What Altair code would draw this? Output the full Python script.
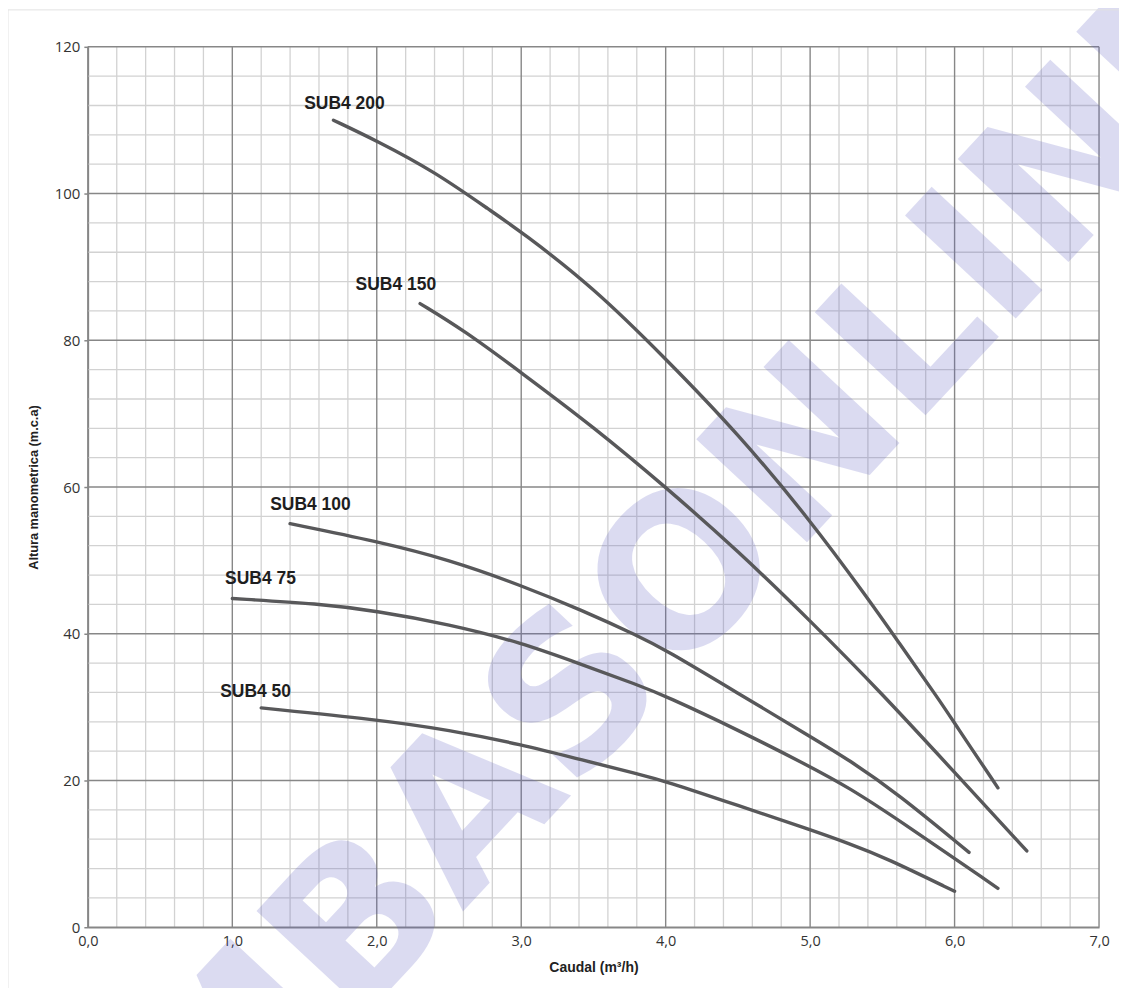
import altair as alt
import pandas as pd

# ---------------- data ----------------
x200 = [1.70, 2.00, 2.40, 2.80, 3.00, 3.50, 4.00, 4.50, 5.00, 5.40, 5.60, 5.90, 6.00, 6.30]
y200 = [110.0, 107.2, 103.0, 97.5, 94.8, 87.2, 77.5, 67.3, 55.5, 44.8, 39.2, 30.8, 27.8, 19.0]

x150 = [2.30, 2.60, 3.00, 3.50, 4.00, 4.50, 5.00, 5.50, 6.00, 6.50]
y150 = [85.0, 81.4, 75.6, 68.2, 60.0, 51.3, 41.8, 31.8, 21.1, 10.4]

x100 = [1.40, 2.00, 2.50, 3.00, 3.42, 3.81, 4.00, 4.50, 5.00, 5.27, 5.60, 6.10]
y100 = [55.0, 52.6, 50.1, 46.6, 43.2, 39.7, 37.8, 31.9, 26.0, 22.8, 18.3, 10.2]

x75 = [1.00, 1.60, 2.00, 2.50, 3.00, 3.42, 3.81, 4.00, 4.50, 5.00, 5.27, 5.60, 6.30]
y75 = [44.8, 44.1, 43.1, 41.3, 38.8, 35.8, 33.0, 31.5, 26.9, 21.9, 19.0, 14.8, 5.3]

x50 = [1.20, 2.00, 2.50, 3.00, 3.42, 3.81, 4.00, 4.50, 5.00, 5.27, 5.52, 6.00]
y50 = [29.9, 28.3, 26.9, 24.9, 22.8, 20.9, 19.9, 16.6, 13.3, 11.4, 9.5, 4.9]

series_names = ["SUB4 200", "SUB4 150", "SUB4 100", "SUB4 75", "SUB4 50"]
series_x = [x200, x150, x100, x75, x50]
series_y = [y200, y150, y100, y75, y50]

label_x = [1.776, 2.132, 1.541, 1.195, 1.161]
label_y = [112.2, 87.5, 57.5, 47.4, 32.0]

x_major = [0, 1, 2, 3, 4, 5, 6, 7]
y_major = [0, 20, 40, 60, 80, 100, 120]
x_minor = [round(i * 0.2, 1) for i in range(1, 35) if i % 5 != 0]
y_minor = [i * 4 for i in range(1, 30) if i % 5 != 0]

x_title = "Caudal (m³/h)"
y_title = "Altura manometrica (m.c.a)"
watermark = "MBASONLINE"

# ---------------- tables ----------------
rows = []
for name, xs, ys in zip(series_names, series_x, series_y):
    for xv, yv in zip(xs, ys):
        rows.append({"series": name, "q": xv, "h": yv})
curves_df = pd.DataFrame(rows)
labels_df = pd.DataFrame({"series": series_names, "q": label_x, "h": label_y})
xminor_df = pd.DataFrame({"q": x_minor})
yminor_df = pd.DataFrame({"h": y_minor})
xmajor_df = pd.DataFrame({"q": x_major})
ymajor_df = pd.DataFrame({"h": y_major})
one_df = pd.DataFrame({"t": [watermark]})

xscale = alt.Scale(domain=[0, 7], nice=False, zero=False)
yscale = alt.Scale(domain=[0, 120], nice=False, zero=False)

MINOR = "#d2d2d2"
MAJOR = "#878787"

xaxis = alt.Axis(
    values=x_major, grid=False, ticks=False,
    labelExpr="replace(format(datum.value, '.1f'), '.', ',')",
    domainColor=MAJOR, domainWidth=1.6,
    labelFont="Open Sans", labelFontSize=14.5, labelColor="#333333",
    labelPadding=7, labelFlush=False,
    title=x_title, titleFont="Liberation Sans", titleFontSize=14,
    titleFontWeight="bold", titleColor="#222222", titlePadding=13)
yaxis = alt.Axis(
    values=y_major, grid=False, tickSize=4, tickColor=MAJOR, tickWidth=1.5,
    domainColor=MAJOR, domainWidth=1.6,
    labelFont="Open Sans", labelFontSize=15, labelColor="#333333",
    labelPadding=4, labelFlush=False,
    title=y_title, titleFont="Liberation Sans", titleFontSize=12.8,
    titleFontWeight="bold", titleColor="#222222", titlePadding=14)

X = lambda: alt.X("q:Q", scale=xscale, axis=xaxis)
Y = lambda: alt.Y("h:Q", scale=yscale, axis=yaxis)

vminor = alt.Chart(xminor_df).mark_rule(color=MINOR, strokeWidth=1.3).encode(x=X())
hminor = alt.Chart(yminor_df).mark_rule(color=MINOR, strokeWidth=1.3).encode(y=Y())
vmajor = alt.Chart(xmajor_df).mark_rule(color=MAJOR, strokeWidth=1.4).encode(x=X())
hmajor = alt.Chart(ymajor_df).mark_rule(color=MAJOR, strokeWidth=1.4).encode(y=Y())

wm = alt.Chart(one_df).mark_text(
    font="DejaVu Sans", fontWeight="bold", fontSize=208, angle=313,
    color="#5a5ac0", opacity=0.21, align="center", baseline="middle"
).encode(x=alt.value(610), y=alt.value(524), text="t:N")

frame = alt.Chart(one_df).mark_rect(
    fillOpacity=0, stroke="#e2e2e2", strokeWidth=1
).encode(x=alt.value(-80), y=alt.value(-37), x2=alt.value(1300), y2=alt.value(1200))

curves = alt.Chart(curves_df).mark_line(
    color="#58585a", strokeWidth=3.4, strokeCap="round", strokeJoin="round",
    interpolate="basis"
).encode(x=X(), y=Y(), detail="series:N")

labels = alt.Chart(labels_df).mark_text(
    font="Liberation Sans", fontWeight="bold", fontSize=17.5, color="#1e1e1e",
    align="center", baseline="middle"
).encode(x=X(), y=Y(), text="series:N")

chart = alt.layer(vminor, hminor, vmajor, hmajor, wm, curves, labels, frame).properties(
    width=1013, height=882,
    autosize=alt.AutoSizeParams(type="none"),
    padding={"left": 80, "top": 38, "right": 20, "bottom": 60},
    background="white",
).configure_view(stroke=None)

chart.save("out.html", embed_options={"renderer": "svg", "actions": False})
